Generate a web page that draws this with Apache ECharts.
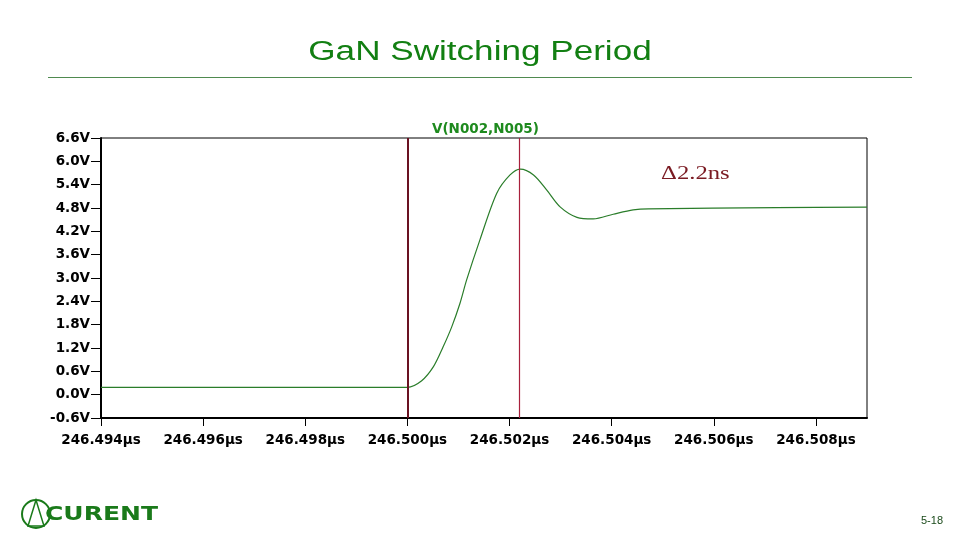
<!DOCTYPE html>
<html><head><meta charset="utf-8">
<script src="https://cdn.jsdelivr.net/npm/echarts@6/dist/echarts.min.js"></script>
<style>html,body{margin:0;padding:0;background:#fff}#c{width:960px;height:540px}</style>
</head><body><div id="c"></div>
<script>
// time in ns (246494 ns = 246.494 µs), voltage in V
const timeNs = [246494, 246500.0, 246500.28, 246500.51, 246500.70, 246500.87, 246501.03, 246501.16, 246501.42, 246501.75, 246502.01, 246502.21, 246502.47, 246502.73, 246502.99, 246503.32, 246503.64, 246504.03, 246504.42, 246504.72, 246507.23, 246509.0];
const voltage = [0.19, 0.19, 0.36, 0.72, 1.23, 1.75, 2.35, 2.95, 3.98, 5.18, 5.65, 5.80, 5.65, 5.26, 4.83, 4.56, 4.52, 4.64, 4.75, 4.78, 4.81, 4.82];
const cursors = [246500.0, 246502.2];
const seriesName = 'V(N002,N005)';
const deltaText = '\u03942.2ns';
const pageTitle = 'GaN Switching Period';

const chart = echarts.init(document.getElementById('c'));
const axisFont = {fontFamily: '"DejaVu Sans",sans-serif', fontWeight: 'bold', fontSize: 13.5, color: '#000'};
chart.setOption({
  backgroundColor: '#fff',
  animation: false,
  title: [
    {text: seriesName, left: 427, top: 117, textStyle: {fontFamily: '"DejaVu Sans",sans-serif', fontWeight: 'bold', fontSize: 13.5, color: '#1e8a1e'}}
  ],
  grid: {left: 101, right: 93, top: 138, bottom: 122, show: true, borderColor: '#000', borderWidth: 1},
  xAxis: {
    type: 'value', min: 246494, max: 246509, interval: 2,
    axisLine: {show: true, onZero: false, lineStyle: {color: '#000', width: 2}},
    axisTick: {show: true, length: 8, lineStyle: {color: '#000', width: 1}},
    splitLine: {show: false},
    axisLabel: Object.assign({margin: 15, showMaxLabel: false, formatter: v => (v / 1000).toFixed(3) + '\u00b5s'}, axisFont)
  },
  yAxis: {
    type: 'value', min: -0.6, max: 6.6, interval: 0.6,
    axisLine: {show: true, onZero: false, lineStyle: {color: '#000', width: 2}},
    axisTick: {show: true, length: 10, lineStyle: {color: '#000', width: 1}},
    splitLine: {show: false},
    axisLabel: Object.assign({margin: 11, formatter: v => v.toFixed(1) + 'V'}, axisFont)
  },
  series: [{
    type: 'line', name: seriesName, showSymbol: false, smooth: 0.3,
    data: timeNs.map((t, i) => [t, voltage[i]]),
    lineStyle: {color: '#2a7d2a', width: 1.2},
    markLine: {
      silent: true, symbol: 'none', label: {show: false},
      data: [
        {xAxis: cursors[0], lineStyle: {color: '#6a1222', width: 2, type: 'solid'}},
        {xAxis: cursors[1], lineStyle: {color: '#a8203c', width: 1.2, type: 'solid'}}
      ]
    }
  }],
  graphic: [
    {type: 'text', x: 480, y: 53, scaleX: 1.3, style: {text: pageTitle, textAlign: 'center', textVerticalAlign: 'middle', font: '27px "Liberation Sans",Arial,sans-serif', fill: '#127f12'}},
    {type: 'line', shape: {x1: 48, y1: 77.5, x2: 912, y2: 77.5}, style: {stroke: '#4f8a4f', lineWidth: 1}},
    {type: 'text', x: 661, y: 174, scaleX: 1.3, style: {text: deltaText, textVerticalAlign: 'middle', font: '19px "Liberation Serif","Times New Roman",serif', fill: '#7a1a22'}},
    {type: 'circle', shape: {cx: 36, cy: 514, r: 14}, style: {fill: 'none', stroke: '#1a7a1a', lineWidth: 2}},
    {type: 'polygon', shape: {points: [[36, 500], [28, 526], [44, 526]]}, style: {fill: 'none', stroke: '#1a7a1a', lineWidth: 1.5}},
    {type: 'text', x: 45, y: 515, scaleX: 1.25, style: {text: 'CURENT', textVerticalAlign: 'middle', font: 'bold 20px "DejaVu Sans","Liberation Sans",sans-serif', fill: '#1a7a1a'}},
    {type: 'text', left: 921, top: 515, style: {text: '5-18', font: '11px "Liberation Sans",Arial,sans-serif', fill: '#1a4a1a'}}
  ]
});
</script></body></html>
